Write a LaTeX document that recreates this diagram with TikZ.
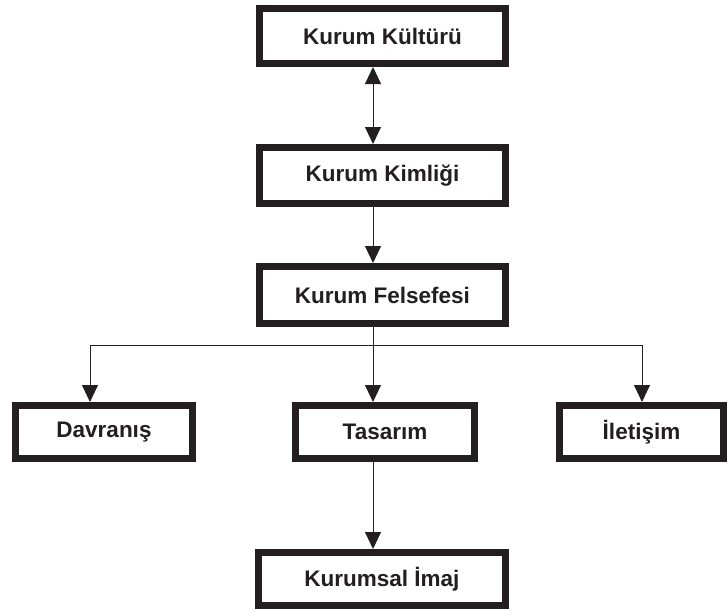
\documentclass[tikz,border=0pt]{standalone}
\usepackage{fontspec}
\setmainfont{Liberation Sans}
\usetikzlibrary{arrows.meta}
\definecolor{ink}{HTML}{231F20}
\begin{document}
\begin{tikzpicture}[x=1pt,y=-1pt,
  box/.style={draw=ink,line width=7pt,fill=white,inner sep=0pt,
    font=\fontsize{22.5}{25}\selectfont\bfseries,text=ink},
  conn/.style={draw=ink,line width=0.9pt},
  tip/.style={-{Triangle[length=17pt,width=16pt]}},
  tips/.style={{Triangle[length=17pt,width=16pt]}-{Triangle[length=17pt,width=16pt]}}]
\useasboundingbox (0,0) rectangle (728,610);
\node[box,minimum width=246pt,minimum height=55pt] (b1) at (382.5,36) {Kurum Kültürü};
\node[box,minimum width=246pt,minimum height=56pt] (b2) at (382.5,175.5) {Kurum Kimliği};
\node[box,minimum width=246pt,minimum height=57pt] (b3) at (382.5,295) {Kurum Felsefesi};
\node[box,minimum width=177pt,minimum height=53pt] (d) at (104,432) {Davranış};
\node[box,minimum width=179pt,minimum height=53pt] (t) at (385,432) {Tasarım};
\node[box,minimum width=164pt,minimum height=53pt] (i) at (641.5,432) {İletişim};
\node[box,minimum width=247pt,minimum height=53pt] (k) at (382,579) {Kurumsal İmaj};
\coordinate (cx) at (373,0);
\coordinate (lx) at (90,345);
\coordinate (rx) at (642,345);
\draw[conn,tips] (b1.south -| cx) -- (b2.north -| cx);
\draw[conn,tip] (b2.south -| cx) -- (b3.north -| cx);
\draw[conn] (b3.south -| cx) -- (lx -| cx);
\draw[conn] (lx) -- (rx);
\draw[conn,tip] (lx) -- (d.north -| lx);
\draw[conn,tip] (lx -| cx) -- (t.north -| cx);
\draw[conn,tip] (rx) -- (i.north -| rx);
\draw[conn,tip] (t.south -| cx) -- (k.north -| cx);
\end{tikzpicture}
\end{document}
